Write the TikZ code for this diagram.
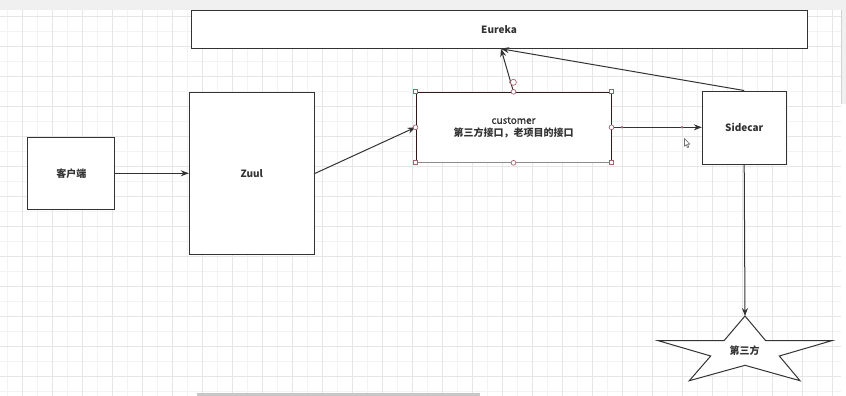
\documentclass[tikz,border=0pt]{standalone}
\usepackage{fontspec}
\setmainfont{Noto Sans CJK SC}
\newfontfamily\semibold[FakeBold=1.2]{Noto Sans CJK SC}
\usetikzlibrary{arrows.meta}

\definecolor{ink}{HTML}{333333}
\definecolor{gridfine}{HTML}{F3F3F3}
\definecolor{gridmajor}{HTML}{E6E6E6}
\definecolor{barbg}{HTML}{F0F0F0}
\definecolor{handle}{HTML}{A8606E}

\tikzset{
  box/.style={draw=ink, line width=0.75pt, fill=white, inner sep=0pt},
  arr/.style={draw=ink, line width=0.75pt, -{Stealth[length=6pt,width=4.5pt]}},
  hsq/.style={draw=handle, fill=white, line width=0.5pt, minimum size=3pt, inner sep=0pt},
  hcirc/.style={draw=handle, fill=white, line width=0.5pt, circle, minimum size=3.6pt, inner sep=0pt},
  hdot/.style={fill=handle, circle, minimum size=2pt, inner sep=0pt},
  lbl/.style={font=\fontsize{7.5}{9.2}\selectfont\bfseries, text=ink, align=center},
}

\begin{document}
\begin{tikzpicture}[x=0.75pt, y=-0.75pt]
\useasboundingbox (0,0) rectangle (846,396);
\fill[white] (0,0) rectangle (846,396);

% canvas grid
\begin{scope}
  \clip (0,10) rectangle (841,396);
  \foreach \x in {7.3,22.3,...,841} \draw[gridfine, line width=0.6pt] (\x,10) -- (\x,396);
  \foreach \y in {16.7,31.7,...,396} \draw[gridfine, line width=0.6pt] (0,\y) -- (841,\y);
  \foreach \x in {22.3,52.3,...,841} \draw[gridmajor, line width=0.6pt] (\x,10) -- (\x,396);
  \foreach \y in {16.7,46.7,...,396} \draw[gridmajor, line width=0.6pt] (0,\y) -- (841,\y);
\end{scope}

% toolbar strip and scroll bars
\fill[barbg] (0,0) rectangle (846,10);
\fill[barbg] (841.5,0) rectangle (846,104);
\draw[gridmajor!80!gray, line width=0.6pt] (841.5,10) -- (841.5,104);
\fill[black!22] (197,392.8) rectangle (480,396);

% components
\node[box, minimum width=462pt, minimum height=28.5pt] (eureka) at (499,29.3) {};
\node[lbl] at (eureka.center) {Eureka};

\node[box, minimum width=65pt, minimum height=54pt] (client) at (71.3,173.3) {};
\node[lbl] at (client.center) {客户端};

\node[box, minimum width=93.75pt, minimum height=121.8pt] (zuul) at (251.8,173.5) {};
\node[lbl] at (zuul.center) {Zuul};

\node[box, draw=ink!85!red!60!black, minimum width=146.25pt, minimum height=52.5pt] (customer) at (513.5,127.3) {};
\draw[black!45, line width=1pt] (customer.south west) -- (customer.south east);
\node[lbl] at (customer.center) {{\mdseries\semibold customer}\\第三方接口，老项目的接口};

\node[box, minimum width=62.8pt, minimum height=55pt] (sidecar) at (744.2,127.7) {};
\node[lbl] at (sidecar.center) {Sidecar};

% star for the third-party service
\coordinate (st1) at (745,316);
\coordinate (st2) at (765.7,340.7);
\coordinate (st3) at (831.7,340.7);
\coordinate (st4) at (779.3,356);
\coordinate (st5) at (800,380.7);
\coordinate (st6) at (745,365.3);
\coordinate (st7) at (689.3,380.7);
\coordinate (st8) at (710.7,356);
\coordinate (st9) at (658.3,340.7);
\coordinate (st10) at (724,340.7);
\draw[ink, line width=0.75pt, fill=white, line join=miter]
  (st1) -- (st2) -- (st3) -- (st4) -- (st5) -- (st6) -- (st7) -- (st8) -- (st9) -- (st10) -- cycle;
\node[lbl] (third) at (744.5,350.5) {第三方};

% connectors
\draw[arr] (client.east) -- (zuul.west |- client.east);
\draw[arr] (zuul.east) -- (customer.west);
\draw[arr] (customer.north) -- ([xshift=1.5pt]eureka.south);
\draw[arr] (sidecar.north) -- ([xshift=1.5pt]eureka.south);
\draw[arr] (customer.east) -- (sidecar.west |- customer.east);
\draw[arr] (sidecar.south) -- (st1);

% selection handles on the customer box
\foreach \a in {north west,north east,south west,south east}
  \node[hsq] at (customer.\a) {};
\foreach \a in {north,south,east,west}
  \node[hcirc] at (customer.\a) {};
\node[hdot] at (622,127.3) {};
\node[hdot] at (682,127.3) {};
\node[hdot] at (510.2,82.3) {};
\node[hcirc, minimum size=4.5pt] at (513.4,82.3) {};

% mouse pointer
\draw[black!55, fill=white, line width=0.5pt, line join=round]
  (684.5,138.5) -- (684.5,146.3) -- (686.2,144.6) -- (687.6,147.6) -- (688.8,147.1)
  -- (687.5,144.2) -- (689.8,144.2) -- cycle;
\end{tikzpicture}
\end{document}
